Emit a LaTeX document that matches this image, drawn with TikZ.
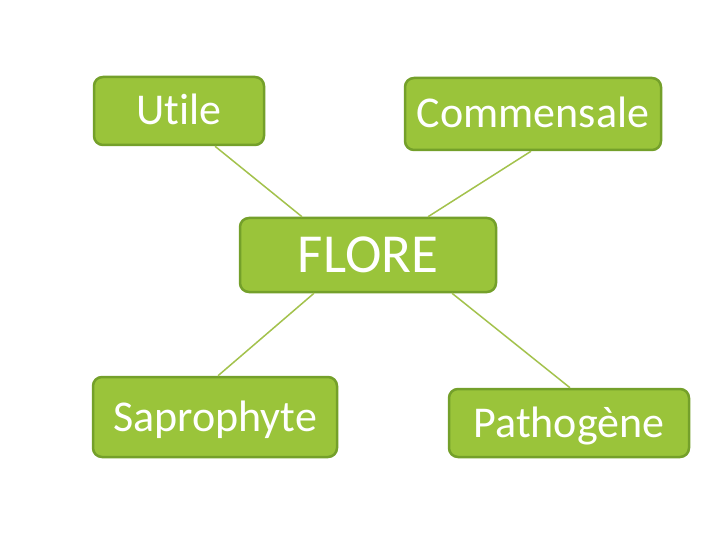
\documentclass[tikz,border=0pt]{standalone}
\usepackage{fontspec}
\setmainfont[Ligatures=NoCommon]{Carlito}
\usepackage{xcolor}
\usetikzlibrary{positioning}

\definecolor{leaf}{HTML}{9AC43A}
\definecolor{leafedge}{HTML}{74A02A}
\definecolor{stem}{HTML}{A3C24C}

\begin{document}
\begin{tikzpicture}[x=1pt, y=-1pt,
    kind/.style={draw=leafedge, line width=2.5pt, fill=leaf, rounded corners=9pt,
      text=white, inner sep=0pt, text height=28pt, text depth=0pt,
      font=\fontsize{44}{48}\selectfont},
    root/.style={kind, text height=35pt, font=\fontsize{55}{60}\selectfont},
    link/.style={draw=stem, line width=1.5pt}]
      \fill[white] (0,0) rectangle (720,540);
      \useasboundingbox (0,0) rectangle (720,540);
      \node[kind, minimum width=170pt, minimum height=68pt] (utile)      at (179,111) {Utile};
      \node[kind, minimum width=256pt, minimum height=72pt] (commensale) at (533,114) {Commensale};
      \node[root, minimum width=256pt, minimum height=74pt] (flore)      at (368,255) {FLORE};
      \node[kind, minimum width=244pt, minimum height=80pt] (sapro)      at (215,417) {Saprophyte};
      \node[kind, minimum width=240pt, minimum height=68pt] (patho)      at (569,423) {Pathogène};
      \path[link]
        ([xshift=36pt]utile.south)      edge ([xshift=-66pt]flore.north)
        ([xshift=-2pt]commensale.south) edge ([xshift=60pt]flore.north)
        ([xshift=-54pt]flore.south)     edge ([xshift=3pt]sapro.north)
        ([xshift=84pt]flore.south)      edge ([xshift=1pt]patho.north);
\end{tikzpicture}
\end{document}
